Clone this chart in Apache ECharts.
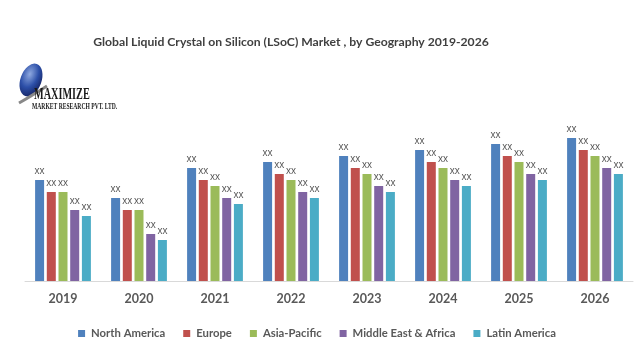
<!DOCTYPE html>
<html>
<head>
<meta charset="utf-8">
<script src="https://cdn.jsdelivr.net/npm/echarts@6/dist/echarts.min.js"></script>
<style>html,body{margin:0;padding:0;background:#fff;}#c{width:634px;height:342px;}</style>
</head>
<body>
<div id="c"></div>
<script>
var years = ['2019','2020','2021','2022','2023','2024','2025','2026'];
var seriesNames = ['North America','Europe','Asia-Pacific','Middle East & Africa','Latin America'];
var northAmerica = [101, 83, 113, 119, 125, 131, 137, 143];
var europe       = [89, 71, 101, 107, 113, 119, 125, 131];
var asiaPacific  = [89, 71, 95, 101, 107, 113, 119, 125];
var middleEastAfrica = [71, 47, 83, 89, 95, 101, 107, 113];
var latinAmerica = [65, 41, 77, 83, 89, 95, 101, 107];
var colors = ['#4F81BD','#C0504D','#9BBB59','#8064A2','#4BACC6'];
var allData = [northAmerica, europe, asiaPacific, middleEastAfrica, latinAmerica];

var chart = echarts.init(document.getElementById('c'), null, {renderer:'canvas'});
var series = allData.map(function(d, i){
  return {
    name: seriesNames[i],
    type: 'bar',
    data: d,
    barWidth: 9,
    barGap: '30%',
    itemStyle: {color: colors[i]},
    label: {show: true, position: 'top', distance: 4, formatter: 'xx', color: '#595959', fontSize: 10, fontFamily: 'Liberation Sans'}
  };
});
chart.setOption({
  animation: false,
  backgroundColor: '#fff',
  color: colors,
  title: {
    text: 'Global Liquid Crystal on Silicon (LSoC) Market , by Geography 2019-2026',
    left: 291, top: 36, textAlign: 'center', padding: 0,
    textStyle: {fontFamily: 'Lato', fontWeight: 'bold', fontSize: 12.2, color: '#404040'}
  },
  legend: {
    bottom: 3, left: 'center', padding: 0,
    itemWidth: 7, itemHeight: 7, itemGap: 18,
    icon: 'rect',
    textStyle: {fontFamily: 'Lato', fontWeight: 'bold', fontSize: 11.3, color: '#595959', padding: [0,0,0,1]},
    data: seriesNames
  },
  grid: {left: 25, right: 1, top: 131, bottom: 61, containLabel: false},
  xAxis: {
    type: 'category', data: years,
    axisLine: {lineStyle: {color: '#D9D9D9', width: 1}},
    axisTick: {show: false},
    axisLabel: {margin: 11, fontFamily: 'Lato', fontWeight: 'bold', fontSize: 12.5, color: '#595959'}
  },
  yAxis: {type: 'value', min: 0, max: 150, show: false, splitLine: {show: false}},
  graphic: [
    {type: 'circle', shape: {cx: 0, cy: 0, r: 17}, x: 31, y: 80, scaleX: 0.62, scaleY: 1, rotation: -0.35,
     style: {fill: new echarts.graphic.RadialGradient(0.35, 0.35, 0.8, [{offset:0,color:'#8fa9e0'},{offset:0.5,color:'#2c4fa8'},{offset:1,color:'#101a55'}])}},
    {type: 'bezierCurve', shape: {x1: 19, y1: 103, cpx1: 28, cpy1: 98, x2: 47, y2: 86}, style: {stroke: '#888', lineWidth: 3, fill: null}},
    {type: 'text', x: 34, y: 103, style: {text: 'MAXIMIZE', fontFamily: 'Liberation Serif', fontWeight: 'bold', fontSize: 16, fill: '#1a1a1a', verticalAlign: 'bottom'}, scaleX: 0.64},
    {type: 'text', x: 32, y: 111, style: {text: 'MARKET RESEARCH PVT. LTD.', fontFamily: 'Liberation Serif', fontWeight: 'bold', fontSize: 8.5, fill: '#1a1a1a', verticalAlign: 'bottom'}, scaleX: 0.66}
  ],
  series: series
});
</script>
</body>
</html>
